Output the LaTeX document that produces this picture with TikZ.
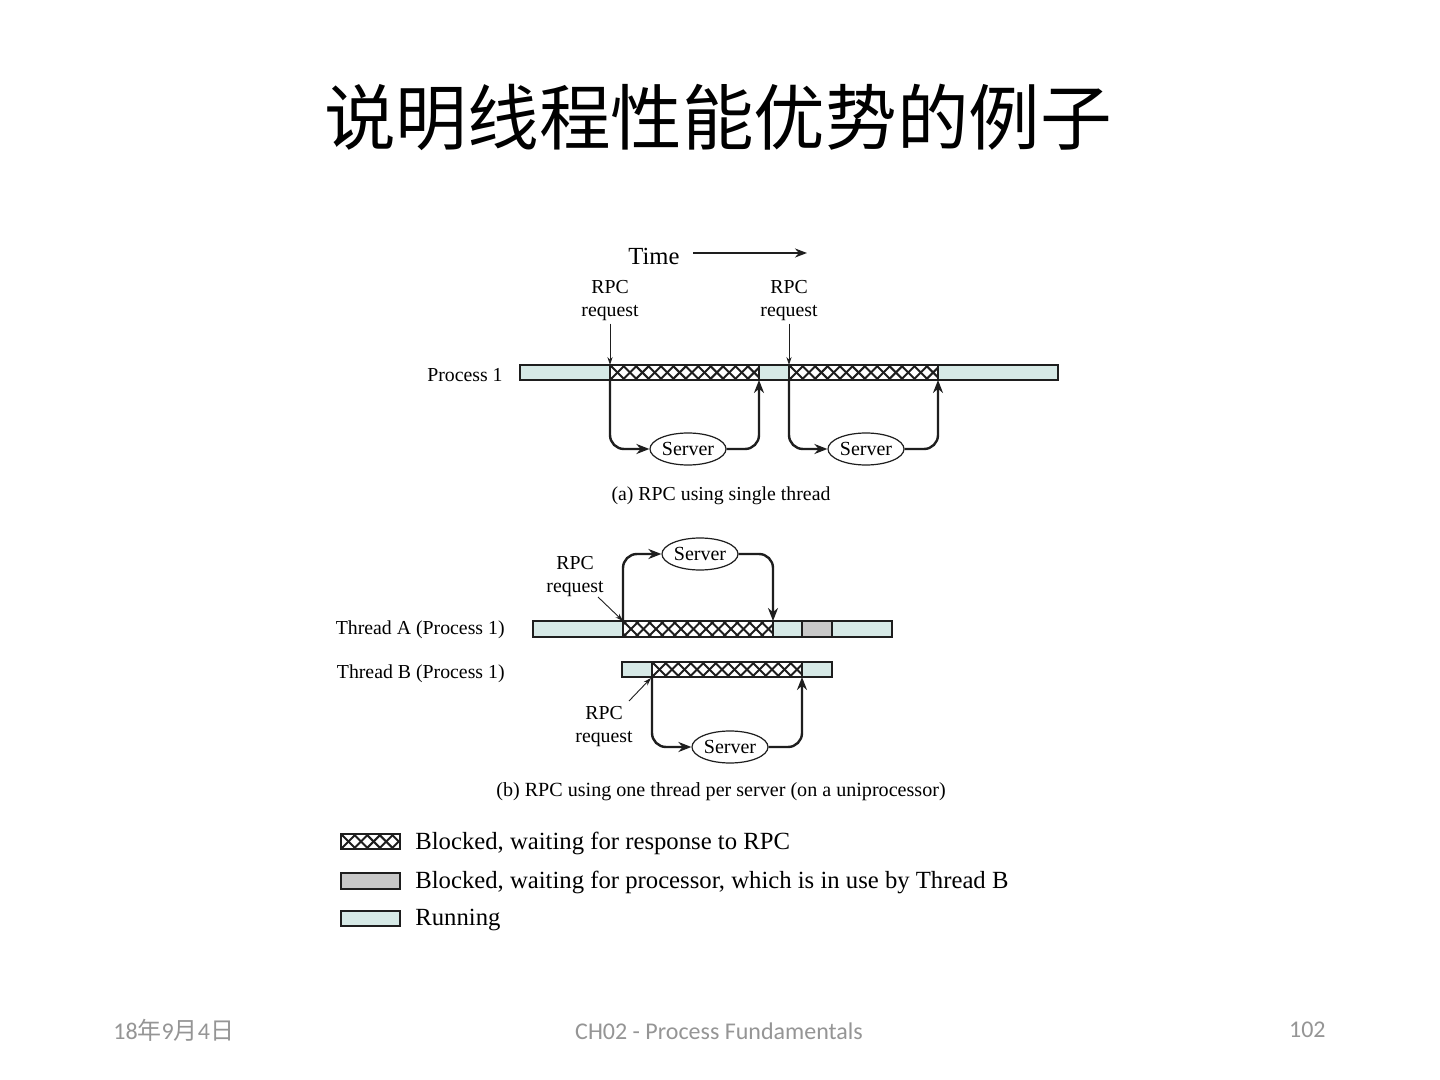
\documentclass[tikz,border=0pt]{standalone}
\usepackage{fontspec}
\setmainfont{Liberation Serif}
\newfontfamily\cjk{Noto Sans CJK SC}
\newfontfamily\footfont{Carlito}
\usetikzlibrary{arrows.meta,shapes.geometric}
\definecolor{runc}{HTML}{D6E9E6}
\definecolor{waitc}{HTML}{C8C8C8}
\definecolor{edgec}{HTML}{1E1E1E}
\definecolor{footc}{HTML}{959595}
\tikzset{
  barbox/.style={draw=edgec,line width=1.1pt},
  hatchline/.style={line width=1pt,draw=edgec},
  srv/.style={draw=edgec,ellipse,line width=0.6pt,fill=white,minimum width=38pt,minimum height=16pt,inner sep=0pt,font=\fontsize{10}{11}\selectfont},
  lbl/.style={font=\fontsize{9.9}{11.5}\selectfont,align=center,inner sep=1pt},
  loopline/.style={line width=1.2pt,draw=edgec,rounded corners=7pt,-{Stealth[length=6.5pt,width=5pt]}},
  thin/.style={line width=0.45pt,draw=edgec,-{Stealth[length=4pt,width=2.6pt]}},
  legtext/.style={anchor=west,font=\fontsize{12.35}{14}\selectfont,inner sep=0pt},
}
\newcommand{\hatchbox}[5]{%
  \pgfmathsetmacro\hp{(#3-#1)/#5}%
  \pgfmathsetmacro\hh{#4-#2}%
  \begin{scope}
    \clip (#1,#2) rectangle (#3,#4);
    \fill[white] (#1,#2) rectangle (#3,#4);
    \foreach \k in {-2,...,14}{
      \draw[hatchline] ({#1+\k*\hp},#2) -- ++(\hh,\hh);
      \draw[hatchline] ({#1+\k*\hp+\hh},#2) -- ++(-\hh,\hh);
    }
  \end{scope}
  \draw[barbox] (#1,#2) rectangle (#3,#4);
}
\begin{document}
\begin{tikzpicture}[x=0.5pt,y=-0.5pt]
\useasboundingbox (0,0) rectangle (1440,1080);
\fill[white] (0,0) rectangle (1440,1080);

% title
\node[font=\cjk\fontsize{35.8}{40}\selectfont,inner sep=0pt] (title) at (718,117) {说明线程性能优势的例子};

% time
\node[font=\fontsize{12.3}{14}\selectfont,inner sep=0pt] (time) at (654,256) {Time};
\coordinate (tA) at (693,253);
\coordinate (tB) at (807,253);
\draw[line width=1.1pt,draw=edgec,-{Stealth[length=6pt,width=4.5pt]}] (tA) -- (tB);

% ---------- (a)
\node[lbl,anchor=east] (p1lab) at (505,375) {Process 1};
\draw[barbox,fill=runc] (520,365) rectangle (1058,380);
\hatchbox{610}{365}{759}{380}{12}
\hatchbox{789}{365}{938}{380}{12}

\node[lbl] (rq1) at (610,301) {RPC\\request};
\node[lbl] (rq2) at (789,301) {RPC\\request};
\coordinate (a1t) at (610,365);
\coordinate (a2t) at (789,365);
\draw[thin] (rq1.south) -- (a1t);
\draw[thin] (rq2.south) -- (a2t);

\coordinate (a1b) at (610,380);
\coordinate (a1r) at (759,380);
\coordinate (a2b) at (789,380);
\coordinate (a2r) at (938,380);
\node[srv] (s1) at (688,449) {Server};
\node[srv] (s2) at (866,449) {Server};
\draw[loopline] (a1b) -- (610,449) -- (s1.west);
\draw[loopline] (s1.east) -- (759,449) -- (a1r);
\draw[loopline] (a2b) -- (789,449) -- (s2.west);
\draw[loopline] (s2.east) -- (938,449) -- (a2r);

\node[lbl] (capa) at (721,496) {(a) RPC using single thread};

% ---------- (b)
\node[lbl,anchor=east] (talab) at (507,630) {Thread A (Process 1)};
\node[lbl,anchor=east] (tblab) at (507,674) {Thread B (Process 1)};
\draw[barbox,fill=runc] (533,621) rectangle (892,637);
\hatchbox{623}{621}{773}{637}{12}
\draw[barbox,fill=waitc] (802,621) rectangle (832,637);
\draw[barbox,fill=runc] (622,662) rectangle (832,677);
\hatchbox{652}{662}{802}{677}{12}

\node[srv] (s3) at (700,554) {Server};
\node[srv] (s4) at (730,747) {Server};
\coordinate (b1t) at (623,621);
\coordinate (b1r) at (773,621);
\coordinate (b2b) at (652,677);
\coordinate (b2r) at (802,677);
\draw[loopline] (b1t) -- (623,554) -- (s3.west);
\draw[loopline] (s3.east) -- (773,554) -- (b1r);
\draw[loopline] (b2b) -- (652,747) -- (s4.west);
\draw[loopline] (s4.east) -- (802,747) -- (b2r);

\node[lbl] (rq3) at (575,577) {RPC\\request};
\node[lbl] (rq4) at (604,727) {RPC\\request};
\coordinate (q3s) at (598,597);
\coordinate (q4s) at (629,701);
\coordinate (b2t) at (651,678);
\draw[thin] (q3s) -- (b1t);
\draw[thin] (q4s) -- (b2t);

\node[lbl,font=\fontsize{10.05}{11.5}\selectfont] (capb) at (721,792) {(b) RPC using one thread per server (on a uniprocessor)};

% ---------- legend
\hatchbox{341}{834}{400}{849}{4.7}
\draw[barbox,fill=waitc] (341,873) rectangle (400,889);
\draw[barbox,fill=runc] (341,911) rectangle (400,926);
\node[legtext] (l1) at (415,843) {Blocked, waiting for response to RPC};
\node[legtext] (l2) at (415,882) {Blocked, waiting for processor, which is in use by Thread B};
\node[legtext] (l3) at (415,920) {Running};

% footer
\node[anchor=west,text=footc,font=\fontsize{12}{14}\selectfont,inner sep=0pt] (date) at (113,1030) {\footfont 18\cjk 年\footfont 9\cjk 月\footfont 4\cjk 日};
\node[text=footc,font=\footfont\fontsize{12}{14}\selectfont,inner sep=0pt] (ch) at (719,1031) {CH02 - Process Fundamentals};
\node[anchor=east,text=footc,font=\footfont\fontsize{12}{14}\selectfont,inner sep=0pt] (pg) at (1326,1030) {102};
\end{tikzpicture}
\end{document}
